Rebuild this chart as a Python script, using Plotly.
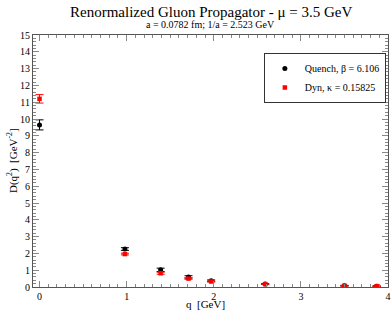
import plotly.graph_objects as go

q_quench = [0.0, 0.98, 1.39, 1.71, 1.97, 2.59, 3.50, 3.87]
d_quench = [9.65, 2.26, 1.02, 0.60, 0.37, 0.18, 0.08, 0.05]
e_quench = [0.30, 0.08, 0.10, 0.07, 0.05, 0.03, 0.02, 0.02]

q_dyn = [0.0, 0.98, 1.39, 1.71, 1.97, 2.59, 3.50, 3.87]
d_dyn = [11.2, 1.96, 0.82, 0.50, 0.33, 0.17, 0.07, 0.05]
e_dyn = [0.25, 0.05, 0.06, 0.04, 0.03, 0.02, 0.02, 0.02]

FONT = "Liberation Serif, Times New Roman, serif"

fig = go.Figure()
fig.add_trace(go.Scatter(
    x=q_quench, y=d_quench, mode="markers", name="Quench, β = 6.106",
    marker=dict(symbol="circle", size=5, color="black"),
    error_y=dict(type="data", array=e_quench, color="black", thickness=1, width=4),
))
fig.add_trace(go.Scatter(
    x=q_dyn, y=d_dyn, mode="markers", name="Dyn, κ = 0.15825",
    marker=dict(symbol="square", size=4.5, color="red"),
    error_y=dict(type="data", array=e_dyn, color="red", thickness=1, width=4),
))

axis_common = dict(
    showgrid=False, zeroline=False, showline=True, linecolor="#555", linewidth=1,
    mirror="allticks", ticks="inside", tickcolor="#888", ticklen=6,
    automargin=False,
    tickfont=dict(family=FONT, size=10, color="black"),
)

fig.update_layout(
    template="none",
    width=392, height=311,
    margin=dict(l=33, r=4, t=35, b=24),
    paper_bgcolor="white", plot_bgcolor="white",
    showlegend=True,
    legend=dict(x=0.994, y=0.929, xanchor="right", yanchor="top",
                bordercolor="#333", borderwidth=1, bgcolor="white",
                font=dict(family=FONT, size=10, color="black"),
                itemwidth=30, tracegroupgap=0),
    xaxis=dict(range=[-0.075, 4.0], dtick=1, tick0=0,
               minor=dict(dtick=0.1, ticks="inside", ticklen=3, tickcolor="#888"),
               **axis_common),
    yaxis=dict(range=[0, 15], dtick=1, tick0=0,
               minor=dict(dtick=0.2, ticks="inside", ticklen=3, tickcolor="#888"),
               **axis_common),
)

fig.add_annotation(text="Renormalized Gluon Propagator - μ = 3.5 GeV",
                   x=0.5, xref="paper", xanchor="center",
                   y=1.091, yref="paper", yanchor="middle", showarrow=False,
                   font=dict(family=FONT, size=15, color="black"))
fig.add_annotation(text="a = 0.0782 fm; 1/a = 2.523 GeV",
                   x=0.5, xref="paper", xanchor="center",
                   y=1.04, yref="paper", yanchor="middle", showarrow=False,
                   font=dict(family=FONT, size=10, color="black"))
fig.add_annotation(text="D(q<sup>2</sup>)  [GeV<sup>-2</sup>]", textangle=-90,
                   x=-0.059, xref="paper", xanchor="center",
                   y=0.5, yref="paper", yanchor="middle",
                   showarrow=False, font=dict(family=FONT, size=11, color="black"))
fig.add_annotation(text="q  [GeV]", x=0.485, xref="paper", xanchor="center",
                   y=-0.067, yref="paper", yanchor="middle",
                   showarrow=False, font=dict(family=FONT, size=11, color="black"))

fig.write_html("out.html", config={"displayModeBar": False},
               post_script="document.body.style.margin='0';document.body.style.padding='0';")
